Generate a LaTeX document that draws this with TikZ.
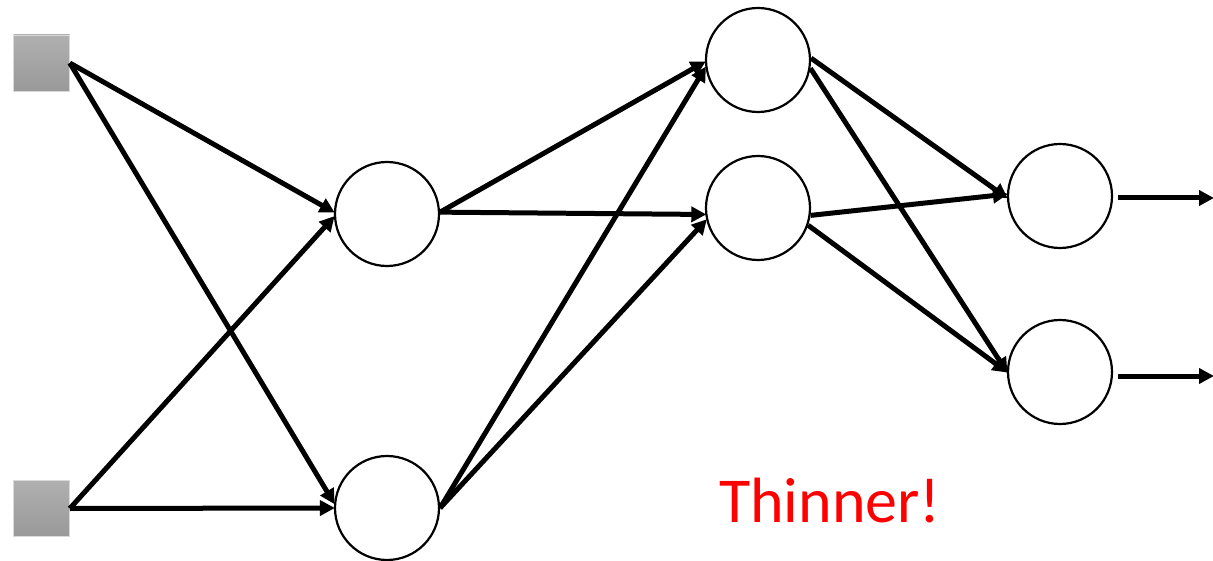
\documentclass[tikz,border=0pt]{standalone}
\usepackage{fontspec}
\setmainfont{Carlito}
\usetikzlibrary{arrows.meta}
\begin{document}
\begin{tikzpicture}[x=1pt,y=-1pt,
  neuron/.style={circle,draw=black,line width=2.2pt,minimum size=104pt,inner sep=0pt},
  inbox/.style={rectangle,draw=gray!30,line width=0.6pt,top color=gray!62,bottom color=gray!80,minimum size=56pt,inner sep=0pt},
  conn/.style={line width=5pt,-{Triangle[length=15pt,width=15pt]},shorten >=-1pt}]
\useasboundingbox (0,0) rectangle (1213,561);
\node[inbox] (s1) at (41.5,63) {};
\node[inbox] (s2) at (41.5,508.5) {};
\node[neuron] (h1a) at (387,214) {};
\node[neuron] (h1b) at (387,508) {};
\node[neuron] (h2a) at (758,60) {};
\node[neuron] (h2b) at (758,208) {};
\node[neuron] (o1) at (1060,196) {};
\node[neuron] (o2) at (1060,372) {};
\coordinate (e1) at (1213,198);
\coordinate (e2) at (1213,376);
\draw[conn] (s1.east) -- (h1a.178);
\draw[conn] (s1.east) -- (h1b.175);
\draw[conn] (s2.east) -- (h1a.183);
\draw[conn] (s2.east) -- (h1b.180);
\draw[conn] (h1a.2) -- (h2a.182);
\draw[conn] (h1a.2) -- (h2b.187);
\draw[conn] (h1b.east) -- (h2a.188);
\draw[conn] (h1b.east) -- (h2b.193);
\draw[conn] (h2a.2) -- (o1.182);
\draw[conn] (h2a.-9) -- (o2.180);
\draw[conn] (h2b.-8) -- (o1.178);
\draw[conn] (h2b.-19) -- (o2.180);
\draw[conn] ([xshift=5pt]o1.east |- e1) -- (e1);
\draw[conn] ([xshift=5pt]o2.east |- e2) -- (e2);
\node[text=red,font=\fontsize{64}{70}\selectfont,anchor=base] (t) at (830,522) {Thinner!};
\end{tikzpicture}
\end{document}
